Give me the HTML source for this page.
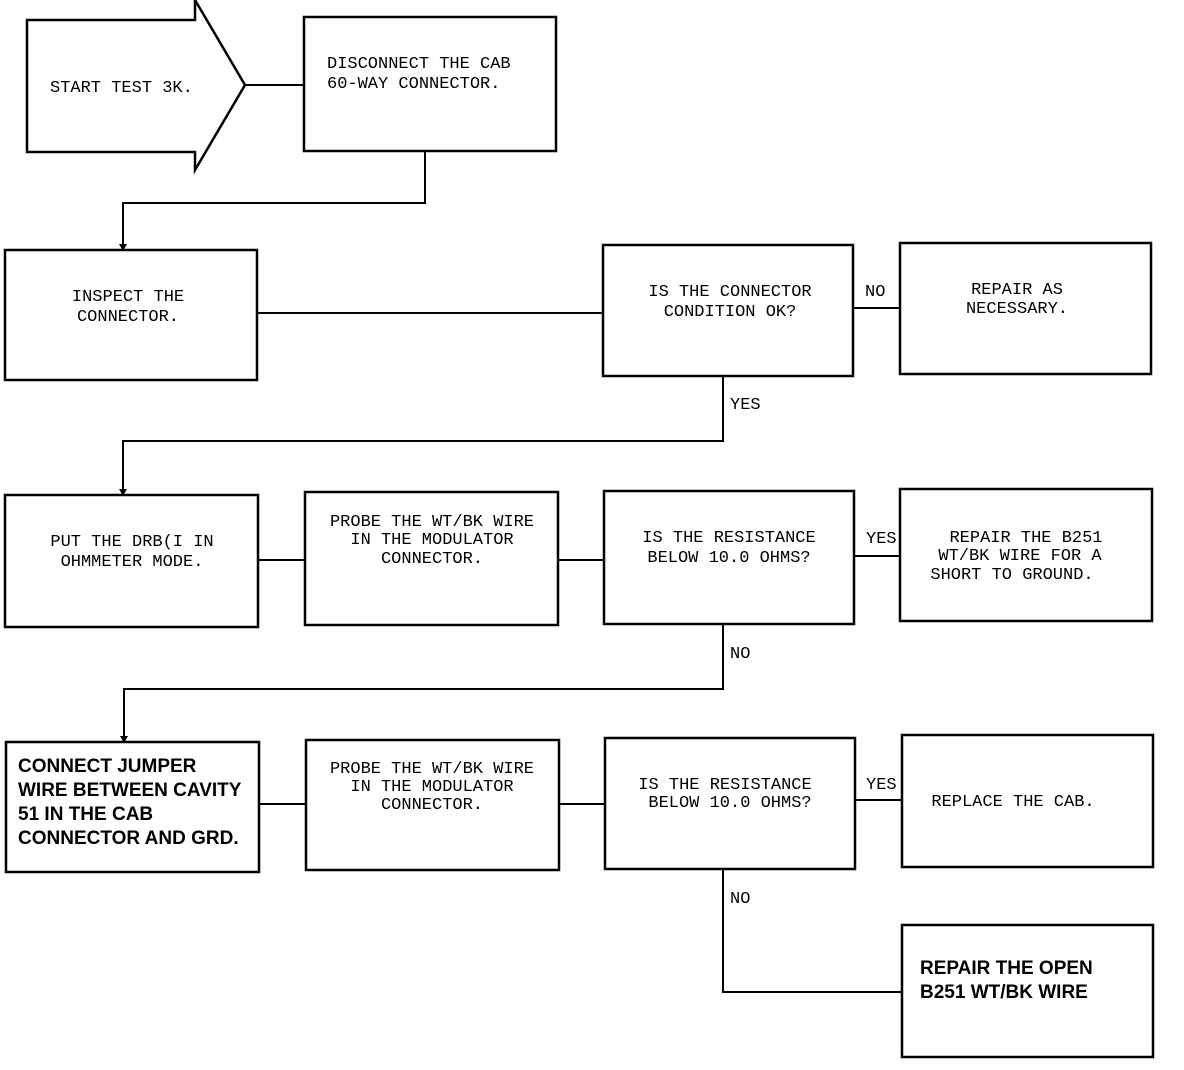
<!DOCTYPE html>
<html><head><meta charset="utf-8"><style>
html,body{margin:0;padding:0;background:#fff;}
svg{display:block;}
text{font-family:"Liberation Mono",monospace;font-size:17px;fill:#000;}
.b{font-family:"Liberation Sans",sans-serif;font-weight:bold;font-size:19px;}
</style></head><body>
<svg width="1184" height="1070" viewBox="0 0 1184 1070" xmlns="http://www.w3.org/2000/svg">
<g fill="none" stroke="#000" stroke-width="2.5">
<polygon points="27,20 195,20 195,0 245,85 195,170 195,152 27,152"/>
<rect x="304" y="17" width="252" height="134"/>
<rect x="5" y="250" width="252" height="130"/>
<rect x="603" y="245" width="250" height="131"/>
<rect x="900" y="243" width="251" height="131"/>
<rect x="5" y="495" width="253" height="132"/>
<rect x="305" y="492" width="253" height="133"/>
<rect x="604" y="491" width="250" height="133"/>
<rect x="900" y="489" width="252" height="132"/>
<rect x="6" y="742" width="253" height="130"/>
<rect x="306" y="740" width="253" height="130"/>
<rect x="605" y="738" width="250" height="131"/>
<rect x="902" y="735" width="251" height="132"/>
<rect x="902" y="925" width="251" height="132"/>
<g stroke-width="2">
<polyline points="245,85 304,85"/>
<polyline points="425,151 425,203 123,203 123,250"/>
<polyline points="257,313 603,313"/>
<polyline points="853,308 900,308"/>
<polyline points="723,376 723,441 123,441 123,495"/>
<polyline points="258,560 305,560"/>
<polyline points="558,560 604,560"/>
<polyline points="854,556 900,556"/>
<polyline points="723,624 723,689 124,689 124,742"/>
<polyline points="259,804 306,804"/>
<polyline points="559,804 605,804"/>
<polyline points="855,800 902,800"/>
<polyline points="723,869 723,992 902,992"/>
</g>
</g>
<g fill="#000">
<polygon points="119,244 127,244 123,251"/>
<polygon points="119,489 127,489 123,496"/>
<polygon points="120,736 128,736 124,743"/>
</g>
<text x="50" y="92">START TEST 3K.</text>
<text x="327" y="68">DISCONNECT THE CAB</text>
<text x="327" y="88">60-WAY CONNECTOR.</text>
<text x="128" y="301" text-anchor="middle">INSPECT THE</text>
<text x="128" y="321" text-anchor="middle">CONNECTOR.</text>
<text x="730" y="296" text-anchor="middle">IS THE CONNECTOR</text>
<text x="730" y="316" text-anchor="middle">CONDITION OK?</text>
<text x="865" y="296">NO</text>
<text x="1017" y="294" text-anchor="middle">REPAIR AS</text>
<text x="1017" y="313" text-anchor="middle">NECESSARY.</text>
<text x="730" y="409">YES</text>
<text x="132" y="546" text-anchor="middle">PUT THE DRB(I IN</text>
<text x="132" y="566" text-anchor="middle">OHMMETER MODE.</text>
<text x="432" y="526" text-anchor="middle">PROBE THE WT/BK WIRE</text>
<text x="432" y="544" text-anchor="middle">IN THE MODULATOR</text>
<text x="432" y="563" text-anchor="middle">CONNECTOR.</text>
<text x="729" y="542" text-anchor="middle">IS THE RESISTANCE</text>
<text x="729" y="562" text-anchor="middle">BELOW 10.0 OHMS?</text>
<text x="866" y="543">YES</text>
<text x="1026" y="542" text-anchor="middle">REPAIR THE B251</text>
<text x="1020" y="560" text-anchor="middle">WT/BK WIRE FOR A</text>
<text x="1012" y="579" text-anchor="middle">SHORT TO GROUND.</text>
<text x="730" y="658">NO</text>
<text class="b" x="18" y="772">CONNECT JUMPER</text>
<text class="b" x="18" y="796">WIRE BETWEEN CAVITY</text>
<text class="b" x="18" y="820">51 IN THE CAB</text>
<text class="b" x="18" y="844">CONNECTOR AND GRD.</text>
<text x="432" y="773" text-anchor="middle">PROBE THE WT/BK WIRE</text>
<text x="432" y="791" text-anchor="middle">IN THE MODULATOR</text>
<text x="432" y="809" text-anchor="middle">CONNECTOR.</text>
<text x="725" y="789" text-anchor="middle">IS THE RESISTANCE</text>
<text x="730" y="807" text-anchor="middle">BELOW 10.0 OHMS?</text>
<text x="866" y="789">YES</text>
<text x="1013" y="806" text-anchor="middle">REPLACE THE CAB.</text>
<text x="730" y="903">NO</text>
<text class="b" x="920" y="974">REPAIR THE OPEN</text>
<text class="b" x="920" y="998">B251 WT/BK WIRE</text>
</svg>
</body></html>
